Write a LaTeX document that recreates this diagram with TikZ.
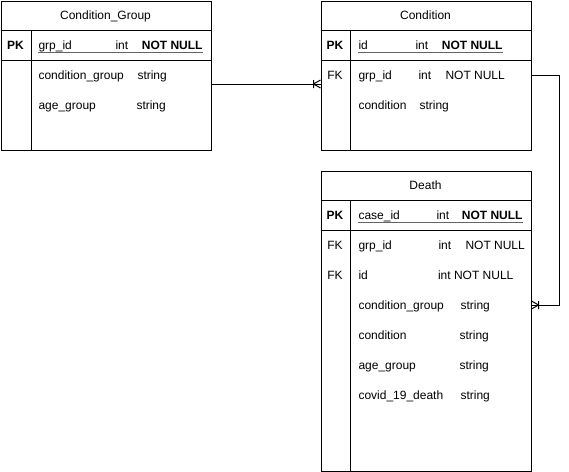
\documentclass[tikz,border=0pt,12pt]{standalone}
\usepackage{fontspec}
\setmainfont{Liberation Sans}
\usetikzlibrary{positioning}
\definecolor{subraya}{RGB}{100,100,100}

\begin{document}
\begin{tikzpicture}[
    x=1pt, y=-1pt, line width=1pt,
    tabla/.style={draw, rectangle, anchor=north west, inner sep=0pt},
    campo/.style={anchor=base west, inner sep=0pt},
    tipo/.style={anchor=base east, inner sep=0pt},
    llave/.style={anchor=base, inner sep=0pt}
  ]
  \useasboundingbox (0,0) rectangle (569,471);

    % --- TABLA Condition_Group ---
    \node[tabla, minimum width=210pt, minimum height=149.5pt] (grupo) at (0.5,0.5) {};
    \draw (0.5,30) -- (210.5,30) (0.5,60) -- (210.5,60) (31,30) -- (31,150);
    \node[llave] (grupo-titulo) at (105.5,19.5) {Condition\_Group};
    % clave primaria
    \node[llave, font=\bfseries] (grupo-pk) at (15.5,49.5) {PK};
    \node[campo] (grupo-id) at (38,49.5) {grp\_id};
    \node[campo] (grupo-int) at (115,49.5) {int};
    \node[tipo, font=\bfseries] (grupo-nn) at (203,49.5) {NOT NULL};
    \draw[subraya] (38,52.5) -- (203,52.5);
    \foreach \fy/\nom/\tx/\tp in {75/condition\_group/137/string, 105/age\_group/136/string} {
        \node[campo] (grupo-c\fy) at (38,\fy+4.5) {\nom};
        \node[campo] (grupo-t\fy) at (\tx,\fy+4.5) {\tp};
    }

    % --- TABLA Condition ---
    \node[tabla, minimum width=210pt, minimum height=149.5pt] (cond) at (320.5,0.5) {};
    \draw (320.5,30) -- (530.5,30) (320.5,60) -- (530.5,60) (350,30) -- (350,150);
    \node[llave] (cond-titulo) at (425.5,19.5) {Condition};
    % clave primaria
    \node[llave, font=\bfseries] (cond-pk) at (335,49.5) {PK};
    \node[campo] (cond-id) at (358,49.5) {id};
    \node[campo] (cond-int) at (415,49.5) {int};
    \node[tipo, font=\bfseries] (cond-nn) at (503,49.5) {NOT NULL};
    \draw[subraya] (358,52.5) -- (503,52.5);
    % clave foranea
    \node[llave] (cond-fk) at (335,79.5) {FK};
    \node[campo] (cond-c75) at (358,79.5) {grp\_id};
    \node[campo] (cond-i75) at (418,79.5) {int};
    \node[campo] (cond-n75) at (445,79.5) {NOT NULL};
    \node[campo] (cond-c105) at (358,109.5) {condition};
    \node[campo] (cond-t105) at (419,109.5) {string};

    % --- TABLA Death ---
    \node[tabla, minimum width=210pt, minimum height=300pt] (muerte) at (320.5,170.5) {};
    \draw (320.5,200) -- (530.5,200) (320.5,230) -- (530.5,230) (350,200) -- (350,470.5);
    \node[llave] (muerte-titulo) at (425.5,189.5) {Death};
    % clave primaria
    \node[llave, font=\bfseries] (muerte-pk) at (335,219.5) {PK};
    \node[campo] (muerte-id) at (358,219.5) {case\_id};
    \node[campo] (muerte-int) at (436,219.5) {int};
    \node[tipo, font=\bfseries] (muerte-nn) at (523,219.5) {NOT NULL};
    \draw[subraya] (358,222.5) -- (523,222.5);
    % claves foraneas
    \node[llave] (muerte-fk1) at (335,249.5) {FK};
    \node[campo] (muerte-c245) at (358,249.5) {grp\_id};
    \node[campo] (muerte-i245) at (438,249.5) {int};
    \node[campo] (muerte-n245) at (465,249.5) {NOT NULL};
    \node[llave] (muerte-fk2) at (335,279.5) {FK};
    \node[campo] (muerte-c275) at (358,279.5) {id};
    \node[campo] (muerte-t275) at (437.5,279.5) {int NOT NULL};
    \foreach \fy/\nom/\tx in {305/condition\_group/460, 335/condition/459,
                              365/age\_group/459, 395/covid\_19\_death/460} {
        \node[campo] (muerte-c\fy) at (358,\fy+4.5) {\nom};
        \node[campo] (muerte-t\fy) at (\tx,\fy+4.5) {string};
    }

    % --- RELACIONES (uno a muchos) ---
    \coordinate (e1) at (cond.west |- 0,84);
    \draw (grupo.east |- e1) -- (e1);
    \draw ([xshift=-7pt]e1) -- ([yshift=4pt]e1) ([xshift=-7pt]e1) -- ([yshift=-4pt]e1)
          ([xshift=-7pt,yshift=4pt]e1) -- ([xshift=-7pt,yshift=-4pt]e1);

    \coordinate (s2) at (cond.east |- 0,75);
    \coordinate (codo) at (559.5,75);
    \coordinate (e2) at (muerte.east |- 0,305);
    \draw (s2) -- (codo) |- (e2);
    \draw ([xshift=7pt]e2) -- ([yshift=4pt]e2) ([xshift=7pt]e2) -- ([yshift=-4pt]e2)
          ([xshift=7pt,yshift=4pt]e2) -- ([xshift=7pt,yshift=-4pt]e2);

\end{tikzpicture}
\end{document}
